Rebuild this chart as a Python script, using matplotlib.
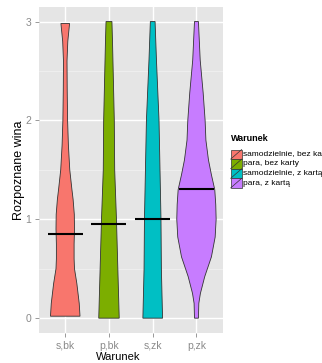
import numpy as np
import matplotlib
matplotlib.use("Agg")
import matplotlib.pyplot as plt
from matplotlib.patches import Rectangle
from matplotlib.lines import Line2D

# --- data ---
groups = ["s,bk", "p,bk", "s,zk", "p,zk"]
legend_labels = ["samodzielnie, bez karty", "para, bez karty",
                 "samodzielnie, z kartą", "para, z kartą"]
colors = ["#F8766D", "#7CAE00", "#00BFC4", "#C77CFF"]
means = [0.85, 0.95, 1.00, 1.31]

# violin outlines: level of "Rozpoznane wina" and relative density (max = 1)
sbk_y = [0.02, 0.15, 0.35, 0.5, 0.6, 0.75, 0.9, 1.05, 1.2, 1.3, 1.5, 1.75,
         2.0, 2.3, 2.6, 2.8, 2.98]
sbk_d = [0.75, 0.71, 0.59, 0.47, 0.45, 0.45, 0.47, 0.46, 0.40, 0.34, 0.23,
         0.16, 0.12, 0.10, 0.09, 0.13, 0.22]
pbk_y = [0.0, 0.5, 1.0, 1.5, 2.0, 2.44, 2.79, 3.0]
pbk_d = [0.52, 0.45, 0.38, 0.29, 0.27, 0.22, 0.18, 0.15]
szk_y = [0.0, 0.5, 1.0, 1.5, 2.0, 2.61, 3.0]
szk_d = [0.50, 0.44, 0.42, 0.37, 0.32, 0.19, 0.12]
pzk_y = [0.0, 0.15, 0.25, 0.42, 0.62, 0.82, 1.0, 1.15, 1.3, 1.45, 1.6, 1.8,
         2.0, 2.28, 2.61, 3.0]
pzk_d = [0.10, 0.12, 0.20, 0.42, 0.76, 0.95, 1.0, 0.98, 0.93, 0.76, 0.61,
         0.48, 0.44, 0.34, 0.19, 0.10]

profiles = [(sbk_y, sbk_d), (pbk_y, pbk_d), (szk_y, szk_d), (pzk_y, pzk_d)]

W, H = 322, 363
plt.rcParams["font.family"] = ["Liberation Sans", "DejaVu Sans"]


def fx(px):
    return px / W


def fy(py):
    return 1 - py / H


fig = plt.figure(figsize=(W / 100, H / 100), dpi=100)
ax = fig.add_axes([fx(39), fy(333), fx(222.7 - 39), (333 - 6.7) / H])
ax.set_facecolor("#E5E5E5")

pos = np.arange(1, len(groups) + 1)
for i, (yv, dv) in enumerate(profiles):
    yv = np.asarray(yv)
    half = np.asarray(dv) * 0.45
    xs = np.concatenate([pos[i] - half, (pos[i] + half)[::-1]])
    ys = np.concatenate([yv, yv[::-1]])
    ax.fill(xs, ys, facecolor=colors[i], edgecolor="#333333", lw=0.6,
            zorder=3)
ax.hlines(means, pos - 0.4, pos + 0.4, color="black", lw=1.5, zorder=4)

ax.set_xlim(0.4, 4.6)
ax.set_ylim(-0.15, 3.15)
ax.set_xticks(pos)
ax.set_xticklabels(groups, fontsize=7.5)
ax.set_yticks([0, 1, 2, 3])
ax.set_yticklabels(["0", "1", "2", "3"], fontsize=7.5)
ax.set_yticks([0.5, 1.5, 2.5], minor=True)
ax.tick_params(which="major", length=3, width=0.6, color="#888888",
               labelcolor="#8a8a8a", pad=2.5)
ax.tick_params(which="minor", length=0)
ax.grid(which="major", color="white", lw=1.0)
ax.grid(which="minor", axis="y", color="#F2F2F2", lw=0.5)
ax.set_axisbelow(True)
for s in ax.spines.values():
    s.set_visible(False)

fig.text(fx(118), fy(357), "Warunek", fontsize=8,
         ha="center", va="center")
fig.text(fx(19), fy(170), "Rozpoznane wina", fontsize=9, rotation=90,
         ha="center", va="center")

# legend
fig.text(fx(230.7), fy(138), "Warunek", fontsize=6.5,
         fontweight="bold", ha="left", va="center")
key_top = 149.5
key_h = 9.6
for i, lab in enumerate(legend_labels):
    top = key_top + i * key_h
    fig.add_artist(Rectangle((fx(230.7), fy(top + key_h)), fx(11),
                             key_h / H, transform=fig.transFigure,
                             facecolor=colors[i], edgecolor="#333333",
                             lw=0.5))
    fig.add_artist(Line2D([fx(230.7), fx(241.7)],
                          [fy(top + key_h), fy(top)],
                          transform=fig.transFigure, color="#333333",
                          lw=0.5))
    fig.text(fx(243), fy(top + key_h / 2), lab,
             fontsize=6, ha="left", va="center")

fig.savefig("out.png", dpi=100)
